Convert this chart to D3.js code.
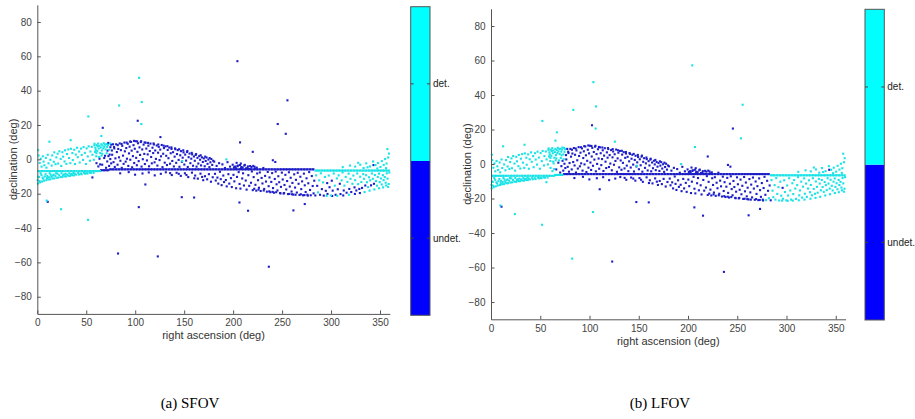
<!DOCTYPE html>
<html><head><meta charset="utf-8">
<script src="https://cdn.jsdelivr.net/npm/d3@7"></script>
<style>body{margin:0;background:#fff}svg{display:block}</style>
</head><body>
<svg id="c" width="915" height="419"></svg>
<script>
// ---------- tick labels / text ----------
const xTicks = [0, 50, 100, 150, 200, 250, 300, 350];
const yTicks = [-80, -60, -40, -20, 0, 20, 40, 60, 80];
const classLabels = ["undet.", "det."];
const captions = ["(a) SFOV", "(b) LFOV"];
const xLabel = "right ascension (deg)";
const yLabel = "declination (deg)";

// ---------- dense horizontal line of points (RA values, one declination per segment) ----------
const lineA_RA = [1,2,4,5,7,9,10,12,13,15,16,18,20,21,23,24,26,27,29,31,32,34,35,37,38,40,42,43,45,46,48,49,51,53,54,56,57,59,60,62,64];
const lineA_Dec = -6.8;   // detected in both
const lineB_RA = [65,66.5,68,69.5,71,72.5];
const lineB_Dec = -6.3;   // detected only in LFOV
const lineC_RA = [74,75.5,77,78,80,81,83,84,86,87,89,90,92,93,95,96,98,99,101,102,104,105,107,108,110,111,113,114,116,117,119,120,122,123,125,126,128,129,131,132,134,135,137,138,140,141,143,144,146,147,149,150,152,153,155,156,158,159,161,162,164,165,167,168,170,171,173,174,176,177,179,180,182,183,185,186,188,189,191,192,194,195,197,198,200,201,203,204,206,207,209,210,212,213,215,216,218,219,221,222,224,225,227,228,230,231,233,234,236,237,239,240,242,243,245,246,248,249,251,252,254,255,257,258,260,261,263,264,266,267,269,270,272,273,275,276,278,279,281,282];
const lineC_Dec = -5.8;   // undetected in both
const lineD_RA = [284,285.5,287,288,290,291,293,294,296,297,299,300,302,303,305,306,308,309,311,312,314,315,317,318,320,321,323,324,326,327,329,330,332,333,335,336,338,339,341,342,344,345,347,348,350,351,353,354,356,357,359];
const lineD_Dec = -6.5;   // detected in both

// ---------- scattered points [RA, Dec] ----------
// detected in both SFOV and LFOV
const ptsBothDet = [
 [0.6,-14.1],[2.7,-13.4],[4.8,-12.9],[6.9,-12.4],[9.2,-12.1],[11.3,-11.7],[13.1,-11.6],[15.4,-11.1],[17.2,-11.1],[19.5,-10.7],[21.3,-10.6],[23.6,-10.2],[25.4,-10.3],[27.7,-9.9],[29.3,-9.9],[31.6,-9.5],[33.4,-9.6],[35.7,-9.2],[37.3,-9.3],[39.6,-8.9],[42.4,-8.8],[45.2,-8.7],[48.7,-8.3],[51.3,-8.2],[54.6,-7.9],[57.4,-7.8],
 [1.8,-10.3],[4.2,-9.1],[6.1,-11.2],[8.4,-8.6],[10.2,-9.7],[12.6,-8.1],[14.3,-10.2],[16.7,-8.9],[18.4,-9.6],[20.6,-8.3],[22.3,-9.2],[24.7,-8.1],[26.2,-9.3],[28.8,-8.4],[30.4,-8.9],[32.7,-8.1],[34.2,-8.7],[36.8,-7.9],[38.3,-8.3],[41.7,-7.9],[44.4,-8.2],[47.6,-7.8],[50.2,-8.0],[53.5,-7.7],[3.3,-8.1],[7.6,-9.9],[11.8,-10.4],[15.9,-9.4],[19.2,-8.1],[27.3,-8.8],[35.1,-8.6],[0.4,-12.1],[2.2,-12.6],[0.9,-10.1],[5.4,-10.6],[9.8,-10.9],[13.7,-9.0],
 [1.2,2.3],[2.4,-2.1],[0.8,5.4],[3.5,0.4],[4.3,-4.2],[5.6,1.8],[6.4,-1.3],[7.2,-3.4],[8.7,0.9],[9.3,-4.8],[10.6,2.7],[11.4,-2.3],[13.3,-0.2],[14.6,-3.6],[15.2,2.3],[16.8,-1.4],[17.3,4.1],[18.6,-2.8],[19.4,1.2],[20.7,3.3],[21.2,-2.4],[22.5,4.7],[23.8,0.3],[24.4,-3.8],[25.6,4.2],[26.3,1.6],[27.8,-1.2],[28.2,5.3],[29.7,-2.6],[30.3,3.1],[31.6,5.8],[32.4,0.8],[33.7,-2.2],[34.3,6.2],[35.8,3.7],[36.2,-0.4],[37.7,5.6],[38.4,-2.7],[39.2,2.8],[40.6,6.8],[41.3,1.3],[42.7,4.6],[43.2,-1.8],[44.6,6.3],[45.3,2.6],[46.7,-0.3],[47.2,7.2],[48.5,3.8],[49.6,-2.7],[50.3,6.4],[51.5,1.7],[52.4,7.6],[53.7,-0.8],[54.2,4.6],[55.6,7.3],[56.3,2.7],[57.7,-0.2],[58.3,8.2],[59.6,5.6],[60.3,3.6],
 [58.4,9.1],[59.3,6.8],[60.6,8.3],[61.2,4.8],[62.1,9.2],[62.7,6.3],[63.4,7.9],[64.2,3.7],[64.8,6.9],[65.3,8.8],[65.9,5.2],[66.6,8.1],[67.3,6.4],[67.8,9.4],[68.4,7.3],[69.2,8.6],[69.7,5.8],[70.4,8.9],[71.3,7.2],[72.1,8.4],[73.4,5.6],[74.2,9.3],[58.9,4.4],[60.2,1.8],[61.7,7.6],[63.1,1.4],[65.6,2.2],[66.3,3.3],[70.8,3.6],
 [284.7,-9.3],[286.6,-19.2],[287.9,-12.2],[289.5,-8.1],[291.8,-13.4],[293.7,-10.2],[297.6,-9.4],[299.8,-21.0],
 [302.7,-8.2],[303.8,-15.3],[305.9,-11.1],[307.7,-9.3],[310.8,-12.2],[311.7,-7.6],[313.6,-15.3],[314.9,-10.2],[316.7,-13.1],[317.9,-8.3],[319.8,-11.3],
 [321.8,-14.2],[322.7,-9.4],[324.6,-12.1],[326.7,-8.2],[327.6,-14.4],[329.7,-10.1],[330.9,-13.2],[332.8,-8.6],[333.7,-11.3],[335.8,-9.2],[336.6,-13.3],[337.8,-16.1],[338.7,-10.4],[339.9,-12.2],
 [341.7,-8.2],[342.6,-11.3],[344.7,-9.1],[345.9,-12.6],[346.8,-15.3],[347.7,-10.2],[348.9,-8.3],[349.6,-13.2],[350.8,-11.1],[351.7,-14.6],[352.9,-9.2],[353.6,-12.1],[354.8,-10.3],[355.7,-13.6],[356.9,-8.1],[357.6,-11.2],[358.8,-14.3],[359.4,-7.6],[358.2,-16.0],[356.3,-15.2],[353.1,-16.3],[349.0,-16.8],[344.2,-17.5],[339.3,-18.2],[334.2,-19.0],[318.2,-20.6],[306.3,-21.2],[295.5,-21.2],
 [324.6,-4.2],[329.8,-3.1],[333.2,-5.0],[335.9,-2.3],[339.6,-4.1],[342.9,-1.2],[345.3,-3.3],[347.9,-2.1],[350.4,-4.4],[351.8,-1.0],[353.7,-3.2],[355.2,0.2],[356.6,-2.4],[358.3,1.1],[356.1,-5.1],[347.2,-5.3],[337.2,-4.6],[327.7,-2.0],[319.3,-3.6],[311.9,-4.5],
 [103.9,47.5],[106.6,33.4],[83.5,31.4],[52.1,25],[106.2,20.6],[65.4,13.6],[12.3,10.3],[34,11.2],[9.5,-24],[24.2,-29],[51.8,-35.2],[357.5,6],[359,3.4],[193,0],[148,-1]
];
// undetected in SFOV, detected in LFOV
const ptsLfovOnly = [
 [69.1,2.1],[71.7,5.1],[72.4,9.6],[73.8,2.8],[74.6,7.1],[75.2,8.6],[60.4,-2.2],[62.3,-4.1],[63.5,0.4],[64.1,-2.9],[56.2,-10.5],[279.2,-20.9],[282.1,-19.8],
 [285.8,-15.4],[288.7,-20.6],[290.6,-17.3],[292.5,-21.1],[294.6,-18.3],[296.3,-20.1],[298.4,-16.2],
 [300.7,-12.4],[301.6,-18.2],[304.6,-20.6],[306.8,-17.4],[308.9,-14.2],[309.6,-20.2],[312.9,-18.1],[315.8,-19.4],[318.6,-17.2],
 [320.6,-19.0],[323.9,-16.3],[325.8,-18.1],[328.8,-17.2],[331.6,-16.6],[334.9,-15.2],[340.8,-15.1],[343.8,-14.2],
 [329.4,-19.6],[324.3,-20.1],[312.4,-21.0],[301.1,-21.3],
 [204.3,57.2],[255.4,34.4],[66.8,18.4],[253.7,14.9],[207,9.9],[125.7,13],[103.6,-27.8],[82.4,-54.8]
];
// undetected in both
const ptsBothUndet = [
 [66.2,-3.1],[68.3,0.8],[70.2,-4.9],[71.4,-1.2],[72.6,1.9],[73.3,-3.8],[74.5,0.2],[75.4,-2.3],[76.1,5.2],[77.3,8.8],[78.6,6.4],
 [76.4,2.7],[77.8,-1.6],[78.3,7.2],[79.1,-4.4],[79.7,0.6],[80.5,8.8],[81.2,4.3],[81.9,-3.1],[82.6,6.1],[83.4,1.2],[84.1,9.3],[84.8,-0.8],[85.3,5.4],[86.2,-4.9],[86.7,7.9],[87.5,2.2],[88.1,-2.6],[88.9,9.8],[89.4,4.7],[90.2,-1.3],[90.8,6.6],[91.5,0.4],[92.3,9.1],[92.9,-3.8],[93.6,3.5],[94.2,7.4],[94.9,-0.2],[95.7,10.2],[96.3,5.1],[96.8,-4.6],[97.6,1.9],[98.2,8.3],[98.9,-2.1],[99.5,6.2],[100.3,10.6],[100.9,0.9],[101.6,-3.4],[102.2,4.4],[102.8,9.4],[103.5,-1.0],[104.3,7.0],[104.9,2.6],[105.6,10.1],[106.4,-4.2],[107.1,5.8],[107.7,0.1],[108.5,8.6],[109.2,3.2],[109.8,-2.7],[110.6,9.7],[111.3,6.3],[111.9,-0.6],[112.7,2.9],[113.4,8.0],[114.1,-4.0],[114.8,4.9],[115.5,9.2],[116.2,1.4],[116.9,-2.3],[117.6,6.8],[118.3,3.7],[119.0,8.7],[119.7,-1.7],[120.4,5.2],[121.1,0.3],[121.9,8.1],[122.6,-3.6],[123.3,3.9],[124.0,7.3],[124.8,-0.4],[125.5,5.7],[126.3,1.8],[127.0,8.4],[127.8,-4.5],[128.5,3.3],[129.3,6.6],[130.1,-1.9],[130.8,7.6],[131.6,2.1],[132.4,-3.3],[133.1,5.5],[133.9,0.7],[134.7,6.9],[135.5,-2.5],[136.2,3.6],[137.0,6.1],[137.8,-0.9],[138.6,4.2],[139.4,-4.1],[140.2,1.6],[141.0,5.9],[141.8,-2.0],[142.6,3.1],[143.4,5.4],[144.3,-0.3],[145.1,-4.3],[145.9,2.4],[146.7,4.8],[147.6,-1.4],[148.4,1.0],[149.3,4.1],[150.1,-3.0],[151.0,2.8],[151.9,-0.7],[152.8,4.3],[153.6,-4.4],[154.5,1.3],[155.4,3.4],[156.3,-2.2],[157.2,0.4],[158.1,2.9],[159.0,-3.7],[159.9,1.7],[160.8,-0.8],[161.7,2.6],[162.6,-4.2],[163.5,0.9],[164.4,-2.4],[165.3,1.9],[166.2,-0.2],[167.2,-3.5],[168.1,1.2],[169.0,-1.5],[170.0,0.6],[170.9,-4.0],[171.9,-0.9],[172.8,1.1],[173.8,-2.6],[174.7,-0.1],[175.7,-4.5],[176.7,-1.7],[177.7,0.2],[178.6,-3.2],[179.6,-0.8],
 [82.1,8.3],[86.0,9.0],[91.2,9.8],[94.6,10.4],[98.7,10.8],[101.9,10.5],[106.0,10.6],[109.5,9.9],[113.0,9.6],[118.7,9.3],[123.5,8.7],[128.9,8.0],[132.8,7.7],[136.9,7.0],[140.6,6.4],[144.8,5.9],[149.0,5.3],[153.2,4.9],[157.7,3.8],[162.1,3.1],[166.8,2.4],[171.4,1.6],[176.0,0.8],
 [84.6,-8.1],[93.3,-7.4],[99.8,-8.9],[107.4,-8.2],[113.8,-7.6],[119.9,-9.3],[126.1,-8.4],[131.2,-7.5],[137.3,-9.1],[142.2,-7.8],[146.5,-9.6],[150.7,-8.1],[154.1,-10.3],[157.9,-7.7],[161.2,-9.4],[163.9,-11.2],[166.6,-8.3],[169.4,-12.1],[171.2,-9.8],[173.4,-11.6],[175.2,-8.6],[177.3,-13.0],[179.1,-10.4],[168.3,-10.2],[160.3,-11.0],[152.3,-9.1],[144.4,-8.4],[135.6,-8.0],
 [180.6,-1.3],[181.4,-8.4],[182.2,-12.3],[183.1,-3.8],[183.9,-10.6],[184.8,-14.1],[185.6,-2.2],[186.5,-7.2],[187.3,-11.5],[188.2,-15.0],[189.0,-2.9],[189.9,-9.4],[190.7,-13.2],[191.6,-5.0],[192.5,-12.0],[193.4,-15.7],[194.2,-1.6],[195.1,-8.6],[196.0,-14.1],[196.8,-4.2],[197.7,-10.9],[198.6,-16.1],[199.5,-3.1],[200.3,-9.0],[201.2,-12.8],[202.1,-4.1],[203.0,-16.8],[203.9,-10.2],[204.8,-3.6],[205.6,-7.4],[206.5,-14.3],[207.4,-17.0],[208.3,-4.4],[209.2,-11.1],[210.1,-8.1],[211.0,-15.2],[211.9,-3.2],[212.8,-12.3],[213.7,-17.6],[214.6,-5.1],[215.5,-9.2],[216.4,-15.4],[217.3,-3.9],[218.2,-13.6],[219.1,-7.0],[220.0,-17.9],[220.9,-10.3],[221.8,-4.3],[222.7,-14.8],[223.6,-18.2],[224.5,-8.2],[225.4,-12.1],[226.3,-16.5],[227.2,-7.6],[228.1,-18.4],[229.0,-10.8],[229.9,-14.0],[230.8,-5.0],[231.7,-17.2],[232.6,-9.6],[233.5,-12.9],[234.4,-18.8],[235.3,-7.3],[236.2,-15.6],[237.1,-10.5],[238.0,-19.1],[238.9,-13.1],[239.8,-8.0],[240.7,-16.7],[241.6,-19.4],[242.5,-11.4],[243.4,-7.1],[244.3,-14.5],[245.2,-18.1],[246.1,-9.8],[247.0,-13.3],[247.9,-19.6],[248.8,-16.0],[249.7,-7.7],[250.6,-11.7],[251.5,-19.9],[252.4,-14.9],[253.3,-9.0],[254.2,-17.5],[255.1,-12.6],[256.0,-20.2],[256.9,-7.5],[257.8,-15.8],[258.7,-10.7],[259.6,-18.7],[260.5,-13.7],[261.4,-20.5],[262.3,-8.7],[263.2,-16.4],[264.1,-11.9],[265.0,-19.3],[265.9,-7.8],[266.8,-14.2],[267.7,-20.7],[268.6,-10.1],[269.5,-17.3],[270.4,-12.8],[271.3,-20.9],[272.2,-8.3],[273.1,-15.1],[274.0,-19.0],[274.9,-11.0],[275.8,-20.6],[276.7,-13.9],[277.6,-7.4],[278.5,-17.8],[280.3,-9.7],[281.2,-15.5],[282.8,-12.4],
 [200.8,-4.6],[202.6,-5.1],[204.4,-4.0],[206.9,-3.3],[208.0,-5.3],[209.7,-4.7],[211.4,-3.6],[213.2,-5.2],[215.0,-4.1],[216.9,-5.6],[218.7,-4.4],[220.5,-3.8],[222.3,-5.4],[224.1,-4.8],[207.8,-2.4],[203.5,-2.0],
 [221.5,-17.1],[225.9,-17.6],[231.2,-18.1],[236.8,-18.6],[243.9,-19.1],[252.0,-19.6],[257.4,-20.1],[263.7,-20.6],[269.1,-20.3],[276.2,-21.1],[283.9,-21.0],[240.3,-18.9],[248.3,-19.8],[260.1,-20.3],[272.8,-20.8],
 [296.0,-13.8],[343.3,-3.3],
 [102.5,22.5],[245.5,20.6],[220,4.4],[240.5,-0.5],[243,-1.5],[10.6,-24.7],[110.3,-14.6],[147.5,-22],[160.1,-22.2],[206.4,-25.1],[215.2,-29.9],[261.5,-29.7],[273.1,-26],[123,-56.5],[236.4,-62.5]
];

// ---------- drawing ----------
const CYAN = "#00ffff", BLUE = "#0000ff";
const DOT_CYAN = "#19e3e6", DOT_BLUE = "#1e1ec8";
const svg = d3.select("#c");

const panels = [
  {x0:37.3, x1:389.8, yt:4.8, yb:313.9, cbx:410.7, cbw:19.3, cbt:6.7, cbb:315.3, lfovPanel:false, cap:captions[0], capX:190, tickY:326.2, xlabY:339, ylabX:17},
  {x0:491, x1:845.6, yt:8.75, yb:319.3, cbx:865, cbw:19.3, cbt:9.3, cbb:320, lfovPanel:true, cap:captions[1], capX:660, tickY:332, xlabY:344.7, ylabX:470.5}
];

function drawPanel(p) {
  const g = svg.append("g");
  const x = d3.scaleLinear().domain([0, 360]).range([p.x0, p.x1]);
  const y = d3.scaleLinear().domain([-90, 90]).range([p.yb, p.yt]);

  const layers = [];
  const lineLayer = (ras, dec, det) => layers.push({pts: ras.map(r => [r, dec]), det});
  layers.push({pts: ptsBothUndet, det: false});
  lineLayer(lineC_RA, lineC_Dec, false);
  layers.push({pts: ptsLfovOnly, det: p.lfovPanel});
  lineLayer(lineB_RA, lineB_Dec, p.lfovPanel);
  layers.push({pts: ptsBothDet, det: true});
  lineLayer(lineA_RA, lineA_Dec, true);
  lineLayer(lineD_RA, lineD_Dec, true);

  layers.forEach(L => {
    g.append("g").selectAll("rect").data(L.pts).join("rect")
      .attr("x", d => x(d[0]) - 1).attr("y", d => y(d[1]) - 1)
      .attr("width", 2.1).attr("height", 2.1)
      .attr("fill", L.det ? DOT_CYAN : DOT_BLUE);
  });

  // axes (MATLAB style: inward ticks, left & bottom only)
  const xAxis = d3.axisBottom(x).tickValues(xTicks).tickSizeInner(-3.5).tickSizeOuter(0).tickPadding(8);
  const yAxis = d3.axisLeft(y).tickValues(yTicks).tickSizeInner(-3.5).tickSizeOuter(0).tickPadding(5.5);
  const gx = g.append("g").attr("transform", `translate(0,${p.yb})`).call(xAxis);
  const gy = g.append("g").attr("transform", `translate(${p.x0},0)`).call(yAxis);
  [gx, gy].forEach(a => {
    a.select(".domain").attr("stroke", "#555").attr("stroke-width", 1);
    a.selectAll(".tick line").attr("stroke", "#555");
    a.selectAll("text").attr("fill", "#444").attr("font-family", "Liberation Sans, Arial, sans-serif").attr("font-size", 10);
  });
  gx.selectAll(".tick text").attr("y", p.tickY - p.yb).attr("dy", "0");

  g.append("text").attr("x", (p.x0 + p.x1) / 2).attr("y", p.xlabY)
    .attr("text-anchor", "middle").attr("font-family", "Liberation Sans, Arial, sans-serif")
    .attr("font-size", 11).attr("fill", "#333").text(xLabel);
  g.append("text").attr("transform", `translate(${p.ylabX},${(p.yt + p.yb) / 2}) rotate(-90)`)
    .attr("text-anchor", "middle").attr("font-family", "Liberation Sans, Arial, sans-serif")
    .attr("font-size", 11).attr("fill", "#333").text(yLabel);

  // colorbar
  const cy = d3.scaleLinear().domain([0, 2]).range([p.cbb, p.cbt]);
  const cats = [{lab: classLabels[0], lo: 0, hi: 1, col: BLUE}, {lab: classLabels[1], lo: 1, hi: 2, col: CYAN}];
  g.selectAll(".cb").data(cats).join("rect")
    .attr("x", p.cbx).attr("y", d => cy(d.hi)).attr("width", p.cbw)
    .attr("height", d => cy(d.lo) - cy(d.hi)).attr("fill", d => d.col);
  g.append("rect").attr("x", p.cbx).attr("y", p.cbt).attr("width", p.cbw)
    .attr("height", p.cbb - p.cbt).attr("fill", "none").attr("stroke", "#555").attr("stroke-width", 1);
  cats.forEach(d => {
    const ty = cy((d.lo + d.hi) / 2);
    g.append("line").attr("x1", p.cbx).attr("x2", p.cbx + 3).attr("y1", ty).attr("y2", ty).attr("stroke", "#444");
    g.append("line").attr("x1", p.cbx + p.cbw - 3).attr("x2", p.cbx + p.cbw).attr("y1", ty).attr("y2", ty).attr("stroke", "#444");
    g.append("text").attr("x", p.cbx + p.cbw + 3).attr("y", ty).attr("dy", "0.35em")
      .attr("font-family", "Liberation Sans, Arial, sans-serif").attr("font-size", 10).attr("fill", "#222").text(d.lab);
  });

  // caption
  g.append("text").attr("x", p.capX).attr("y", 408).attr("text-anchor", "middle")
    .attr("font-family", "Liberation Serif, Times New Roman, serif").attr("font-size", 15)
    .attr("fill", "#000").text(p.cap);
}
panels.forEach(drawPanel);
</script>
</body></html>
